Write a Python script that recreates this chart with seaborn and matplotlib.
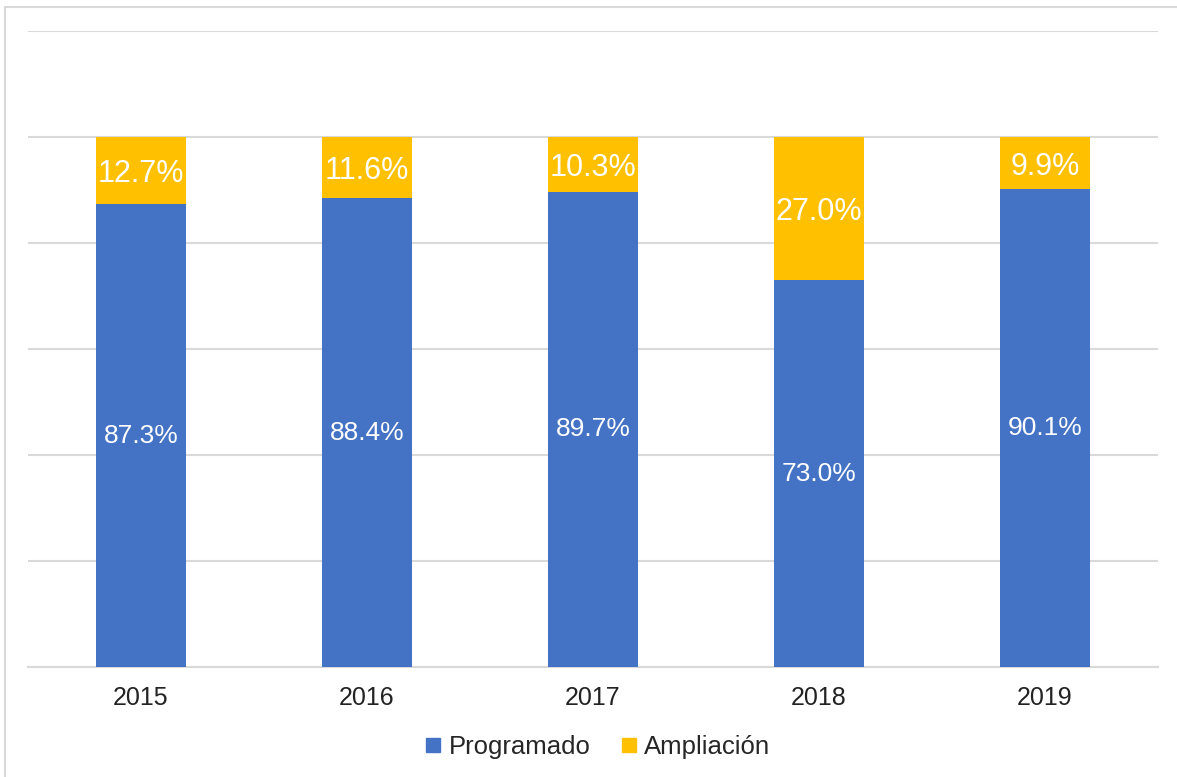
import matplotlib
matplotlib.use("Agg")
import matplotlib.pyplot as plt
from matplotlib.lines import Line2D
import seaborn as sns
import pandas as pd

# data
years = ["2015", "2016", "2017", "2018", "2019"]
programado = [87.3, 88.4, 89.7, 73.0, 90.1]
ampliacion = [12.7, 11.6, 10.3, 27.0, 9.9]

BLUE = "#4472C4"
YELLOW = "#FFC000"
GRID = "#D9D9D9"

sns.set_style("white")
plt.rcParams["font.family"] = ["Liberation Sans", "DejaVu Sans"]

df = pd.DataFrame({"year": years, "prog": programado, "amp": ampliacion})
df["total"] = df["prog"] + df["amp"]

fig = plt.figure(figsize=(11.77, 7.77), dpi=100)
ax = fig.add_axes([28 / 1177, 110 / 777, 1130 / 1177, 636 / 777])

# stacked bars: total (yellow) behind, programado (blue) in front
sns.barplot(data=df, x="year", y="total", color=YELLOW, saturation=1,
            width=0.4, linewidth=0, ax=ax, zorder=2)
sns.barplot(data=df, x="year", y="prog", color=BLUE, saturation=1,
            width=0.4, linewidth=0, ax=ax, zorder=3)

# labels
blue_bars = ax.containers[1]
ax.bar_label(blue_bars, labels=[f"{v:.1f}%" for v in programado],
             label_type="center", color="white", fontsize=19, zorder=4)
for p, lo, v in zip(ax.containers[0], programado, ampliacion):
    ax.text(p.get_x() + p.get_width() / 2, lo + v / 2, f"{v:.1f}%",
            ha="center", va="center_baseline", color="white", fontsize=22,
            zorder=4)

ax.set_ylim(0, 120)
ax.set_yticks(range(0, 121, 20))
ax.set_yticklabels([])
ax.tick_params(axis="y", length=0)
ax.tick_params(axis="x", length=0, labelsize=18, colors="#222222", pad=14)
ax.yaxis.grid(True, color=GRID, linewidth=1.5, zorder=0)
ax.set_axisbelow(True)
ax.set_xlabel("")
ax.set_ylabel("")
for s in ["top", "left", "right"]:
    ax.spines[s].set_visible(False)
ax.spines["bottom"].set_color(GRID)
ax.spines["bottom"].set_linewidth(1.5)

# legend
handles = [Line2D([], [], marker="s", linestyle="", color=BLUE, markersize=10),
           Line2D([], [], marker="s", linestyle="", color=YELLOW, markersize=10)]
fig.legend(handles, ["Programado", "Ampliación"], loc="center",
           bbox_to_anchor=(598 / 1177, 1 - 747 / 777), ncol=2, frameon=False,
           fontsize=18.5, handlelength=0.6, handletextpad=0.3, columnspacing=1.2)

# chart border (top and left edges visible)
fig.add_artist(Line2D([5 / 1177, 1], [1 - 7 / 777, 1 - 7 / 777],
                      transform=fig.transFigure, color=GRID, linewidth=1.5))
fig.add_artist(Line2D([5 / 1177, 5 / 1177], [0, 1 - 7 / 777],
                      transform=fig.transFigure, color=GRID, linewidth=1.5))

fig.savefig("out.png", dpi=100)
